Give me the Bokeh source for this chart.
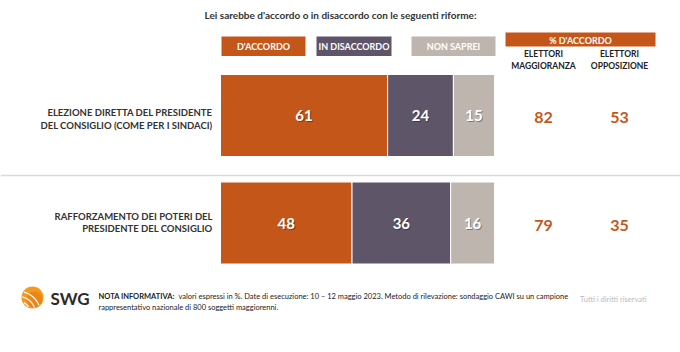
import numpy as np
from bokeh.plotting import figure
from bokeh.models import Range1d, ColumnDataSource, Label
from bokeh.core.properties import value
from bokeh.embed import file_html
from bokeh.resources import INLINE

# ---------------- data ----------------
title = "Lei sarebbe d'accordo o in disaccordo con le seguenti riforme:"
categories = [
    "ELEZIONE DIRETTA DEL PRESIDENTE\nDEL CONSIGLIO (COME PER I SINDACI)",
    "RAFFORZAMENTO DEI POTERI DEL\nPRESIDENTE DEL CONSIGLIO",
]
series = ["D'ACCORDO", "IN DISACCORDO", "NON SAPREI"]
accordo = [61, 48]
disaccordo = [24, 36]
non_saprei = [15, 16]
side_header = "% D'ACCORDO"
side_groups = ["ELETTORI\nMAGGIORANZA", "ELETTORI\nOPPOSIZIONE"]
maggioranza = [82, 79]
opposizione = [53, 35]
note_bold = "NOTA INFORMATIVA:"
note_lines = [
    "valori espressi in %. Date di esecuzione: 10 \u2013 12 maggio 2023. Metodo di rilevazione: sondaggio CAWI su un campione",
    "rappresentativo nazionale di 800 soggetti maggiorenni.",
]
rights = "Tutti i diritti riservati"

# ---------------- style / layout ----------------
W, H = 680, 352
FONT = "Lato"
C_ORANGE = "#C4561A"
C_PURPLE = "#5E5569"
C_GREY = "#BEB6AE"
colors = [C_ORANGE, C_PURPLE, C_GREY]
TXT = "#333333"
BAR_L, BAR_R = 220, 494
row_y = [115, 222.5]
bar_h = 82
cat_label_y = [[112, 124.5], [215.5, 228]]

p = figure(width=W, height=H, output_backend="svg", toolbar_location=None,
           x_axis_location=None, y_axis_location=None,
           x_range=Range1d(0, W), y_range=Range1d(H, 0), min_border=0)
p.outline_line_color = None
p.xgrid.visible = False
p.ygrid.visible = False
p.background_fill_color = "white"
p.border_fill_color = "white"

# percent scale for the bars
px_per = (BAR_R - BAR_L) / 100.0
p.extra_x_ranges = {"pct": Range1d(-BAR_L / px_per, (W - BAR_L) / px_per)}


def lab(x, y, text, size, color=TXT, bold=True, align="center", baseline="middle"):
    p.add_layout(Label(x=x, y=y, text=text, text_font=FONT, text_font_size=f"{size}px",
                       text_font_style="bold" if bold else "normal", text_color=color,
                       text_align=align, text_baseline=baseline))

# title
lab(340, 14, title, 10)

# legend boxes
leg_x = [(221, 305), (316, 391), (411, 495)]
for (x0, x1), name, c in zip(leg_x, series, colors):
    p.quad(left=x0, right=x1, top=36, bottom=55.5, fill_color=c, line_color=None)
    lab((x0 + x1) / 2, 46, name, 9, color="white")

# side header
p.quad(left=505, right=655, top=32, bottom=46, fill_color=C_ORANGE, line_color=None)
lab(580, 39.5, side_header, 9, color="white")
side_x = [543, 619]
for sx, g in zip(side_x, side_groups):
    for k, line in enumerate(g.split("\n")):
        lab(sx, 53.5 + 12 * k, line, 8.5, color="#222222")

# separator
p.segment(x0=0, x1=W, y0=175, y1=175, line_color="#D9D9D9", line_width=1.5)

# stacked bars
vals = np.array([accordo, disaccordo, non_saprei], dtype=float)
lefts = np.vstack([np.zeros(vals.shape[1]), np.cumsum(vals, axis=0)[:-1]])
for i in range(3):
    src = ColumnDataSource(dict(y=row_y, left=lefts[i], right=lefts[i] + vals[i],
                                mid=lefts[i] + vals[i] / 2, txt=[f"{int(v)}" for v in vals[i]]))
    p.hbar(y="y", left="left", right="right", height=bar_h, source=src, x_range_name="pct",
           fill_color=colors[i], line_color="white", line_width=1)
    p.text(x="mid", y="y", text="txt", source=src, x_range_name="pct",
           text_font=value(FONT), text_font_size="15px", text_font_style="bold",
           text_color="black", text_alpha=0.35, text_align="center", text_baseline="middle",
           x_offset=1, y_offset=1)
    p.text(x="mid", y="y", text="txt", source=src, x_range_name="pct",
           text_font=value(FONT), text_font_size="15px", text_font_style="bold",
           text_color="white", text_align="center", text_baseline="middle")

# category labels
for cat, ys in zip(categories, cat_label_y):
    for line, yy in zip(cat.split("\n"), ys):
        lab(212, yy, line, 9.5, align="right")

# side values
for sx, arr in zip(side_x, [maggioranza, opposizione]):
    src = ColumnDataSource(dict(x=[sx] * len(arr), y=[r + 2 for r in row_y], t=[str(v) for v in arr]))
    p.text(x="x", y="y", text="t", source=src, text_font=value(FONT), text_font_size="16px",
           text_font_style="bold", text_color=C_ORANGE, text_align="center", text_baseline="middle")

# footer: logo
cx, cy, r = 32, 297, 11
p.scatter(x=[cx], y=[cy], size=2 * r, fill_color="#F29A1F", line_color=None)
p.scatter(x=[cx + 2], y=[cy + 2], size=2 * r - 6, fill_color="#EC7A14", line_color=None, fill_alpha=0.7)
t = np.linspace(0, 2 * np.pi, 600)
for rr in [12, 17, 22]:
    ox, oy = cx - 14, cy + 16
    px = ox + rr * np.cos(t)
    py = oy + rr * np.sin(t)
    inside = (px - cx) ** 2 + (py - cy) ** 2 < (r - 0.8) ** 2
    if inside.sum() > 2:
        xx, yy = px[inside], py[inside]
        order = np.argsort(xx)
        p.line(x=xx[order], y=yy[order], line_color="white", line_width=1.2)
lab(50, 298, "SWG", 17, color="#2B2B2B", align="left")

# footer note
lab(98, 296, note_bold, 7.5, color="#222222", align="left")
lab(178, 296, note_lines[0], 7.5, color="#222222", bold=False, align="left")
lab(98, 306.5, note_lines[1], 7.5, color="#222222", bold=False, align="left")
lab(646, 299, rights, 7.5, color="#BBBBBB", bold=False, align="right")

open("out.html", "w").write(file_html(p, INLINE))
